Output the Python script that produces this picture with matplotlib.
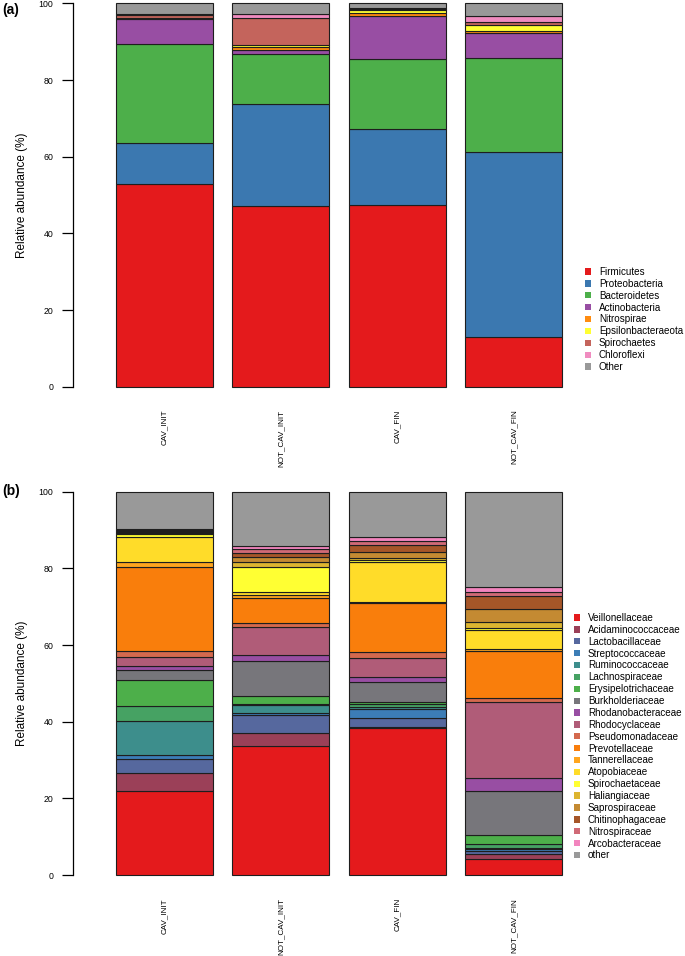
import matplotlib.pyplot as plt
from matplotlib.patches import Patch
import numpy as np

plt.rcParams['font.family'] = ['Liberation Sans', 'DejaVu Sans']

samples = ['CAV_INIT', 'NOT_CAV_INIT', 'CAV_FIN', 'NOT_CAV_FIN']

# --- panel (a): phyla ---
phyla = ['Firmicutes', 'Proteobacteria', 'Bacteroidetes', 'Actinobacteria',
         'Nitrospirae', 'Epsilonbacteraeota', 'Spirochaetes', 'Chloroflexi', 'Other']
phyla_colors = ['#E41A1C', '#3B78B0', '#4DAF4A', '#984EA3', '#FF8C10',
                '#FFFF33', '#C4645C', '#F08CC0', '#999999']
phyla_cav_init = [52.8, 10.9, 25.6, 6.6, 0.2, 0.1, 0.8, 0.2, 2.8]
phyla_not_cav_init = [47.1, 26.6, 13.1, 1.0, 0.8, 0.6, 7.1, 0.9, 2.8]
phyla_cav_fin = [47.4, 19.8, 18.3, 11.1, 1.0, 0.7, 0.3, 0.2, 1.2]
phyla_not_cav_fin = [12.9, 48.2, 24.6, 6.5, 0.7, 1.4, 0.8, 1.7, 3.2]

# --- panel (b): families ---
families = ['Veillonellaceae', 'Acidaminococcaceae', 'Lactobacillaceae', 'Streptococcaceae',
            'Ruminococcaceae', 'Lachnospiraceae', 'Erysipelotrichaceae', 'Burkholderiaceae',
            'Rhodanobacteraceae', 'Rhodocyclaceae', 'Pseudomonadaceae', 'Prevotellaceae',
            'Tannerellaceae', 'Atopobiaceae', 'Spirochaetaceae', 'Haliangiaceae',
            'Saprospiraceae', 'Chitinophagaceae', 'Nitrospiraceae', 'Arcobacteraceae', 'other']
family_colors = ['#E41A1C', '#9B4058', '#56689E', '#3C7DB6', '#3D8E8C', '#46A263',
                 '#4DAF4A', '#77767B', '#984EA3', '#B05C78', '#D4694E', '#F97E0C',
                 '#FFA51E', '#FFDC29', '#FFFF33', '#DDB530', '#C48A32', '#A65628',
                 '#D06A76', '#F285BE', '#999999']
fam_cav_init = [21.9, 4.8, 3.6, 1.0, 9.0, 3.8, 6.8, 2.6, 1.1, 2.4, 1.5, 21.8, 1.4, 6.5, 0.8,
                0.25, 0.25, 0.25, 0.25, 0.25, 9.75]
fam_not_cav_init = [33.7, 3.3, 4.7, 0.5, 2.1, 0.3, 2.1, 9.0, 1.7, 7.4, 0.9, 6.5, 0.8, 0.9, 6.5,
                    1.3, 1.3, 0.9, 1.2, 0.6, 14.3]
fam_cav_fin = [38.3, 0.4, 2.2, 2.3, 0.7, 0.6, 0.7, 5.1, 1.4, 5.0, 1.4, 12.8, 0.2, 10.6, 0.4,
               0.5, 1.7, 1.8, 1.1, 0.9, 11.9]
fam_not_cav_fin = [4.3, 1.3, 0.7, 0.4, 0.3, 1.2, 2.2, 11.5, 3.5, 19.8, 0.9, 12.3, 0.5, 5.0, 0.5,
                   1.6, 3.4, 3.4, 1.0, 1.4, 24.8]


def stacked_panel(ax, table, names, colors):
    table = np.array(table)
    x = 0.7 + 1.2 * np.arange(len(samples))  # R barplot: width 1, space 0.2
    bottom = np.zeros(len(samples))
    for j in range(len(names)):
        ax.bar(x, table[:, j], bottom=bottom, width=1.0, color=colors[j],
               edgecolor='#1e1e1e', linewidth=0.8, clip_on=False)
        bottom += table[:, j]
    ax.set_xlim(0, 4.8)
    ax.set_ylim(0, 100)
    for s in ['top', 'right', 'bottom']:
        ax.spines[s].set_visible(False)
    ax.spines['left'].set_position(('outward', 17))
    ax.spines['left'].set_bounds(0, 100)
    ax.spines['left'].set_linewidth(0.9)
    ax.set_yticks([0, 20, 40, 60, 80, 100])
    ax.tick_params(axis='y', length=8, width=0.9, labelsize=6.3, pad=6)
    ax.set_xticks(x)
    ax.set_xticklabels(samples, rotation=90, fontsize=5.8)
    ax.tick_params(axis='x', length=0, pad=16.5)
    ax.set_ylabel('Relative abundance (%)', fontsize=8.5)
    ax.yaxis.set_label_coords(-0.147, 0.5)


fig = plt.figure(figsize=(6.85, 9.56), dpi=100)

ax_a = fig.add_axes([0.141, 0.5955, 0.680, 0.401])
stacked_panel(ax_a, [phyla_cav_init, phyla_not_cav_init, phyla_cav_fin, phyla_not_cav_fin],
              phyla, phyla_colors)
ax_b = fig.add_axes([0.141, 0.0847, 0.680, 0.401])
stacked_panel(ax_b, [fam_cav_init, fam_not_cav_init, fam_cav_fin, fam_not_cav_fin],
              families, family_colors)

handles_a = [Patch(facecolor=c, edgecolor='none') for c in phyla_colors]
fig.legend(handles_a, phyla, loc='upper left', bbox_to_anchor=(585 / 685, 1 - 267 / 956),
           frameon=False, fontsize=7.1, handlelength=0.6, handleheight=0.6,
           handletextpad=0.8, labelspacing=0.19, borderpad=0, borderaxespad=0)

handles_b = [Patch(facecolor=c, edgecolor='none') for c in family_colors]
fig.legend(handles_b, families, loc='upper left', bbox_to_anchor=(574 / 685, 1 - 613 / 956),
           frameon=False, fontsize=7.1, handlelength=0.6, handleheight=0.6,
           handletextpad=0.8, labelspacing=0.19, borderpad=0, borderaxespad=0)

fig.text(0.003, 0.997, '(a)', fontsize=10, fontweight='bold', va='top', ha='left')
fig.text(0.003, 0.494, '(b)', fontsize=10, fontweight='bold', va='top', ha='left')

fig.savefig('out.png', dpi=100)
